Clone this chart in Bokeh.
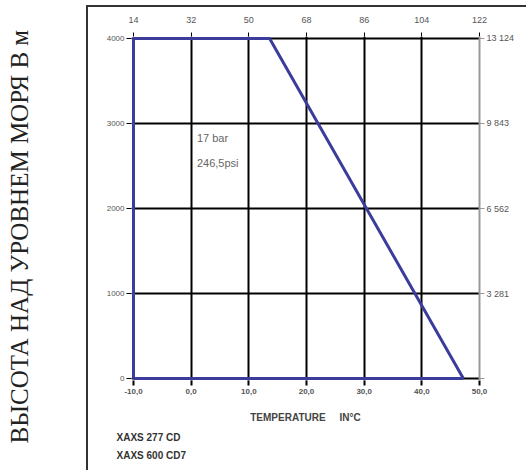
from bokeh.plotting import figure
from bokeh.models import (LinearAxis, FixedTicker, Range1d, Label, Title)
from bokeh.embed import file_html
from bokeh.resources import INLINE

# ---- data ----
temp_c = [-10, -10, 13.6, 47.2, -10]
alt_m = [0, 4000, 4000, 0, 0]

x_ticks = [-10, 0, 10, 20, 30, 40, 50]
x_labels_c = ["-10,0", "0,0", "10,0", "20,0", "30,0", "40,0", "50,0"]
x_labels_f = ["14", "32", "50", "68", "86", "104", "122"]

y_ticks = [0, 1000, 2000, 3000, 4000]
y_labels_m = ["0", "1000", "2000", "3000", "4000"]
y_labels_ft = ["", "3 281", "6 562", "9 843", "13 124"]

y_title = "ВЫСОТА НАД УРОВНЕМ МОРЯ В м"
x_title = "TEMPERATURE\u00a0\u00a0\u00a0\u00a0 IN°C"
note_lines = ["17 bar", "246,5psi"]
note_x = [1, 1]
note_y = [2835, 2530]
models = ["XAXS 277 CD", "XAXS 600 CD7"]

W, H = 526, 470
p = figure(width=W, height=H, output_backend="svg", toolbar_location=None,
           x_range=Range1d(-10.35, 50), y_range=Range1d(-23.5, 4023.5),
           x_axis_location=None, y_axis_location=None,
           min_border_left=131, min_border_right=47,
           min_border_top=36, min_border_bottom=90)
p.outline_line_color = None
p.background_fill_color = "white"
p.border_fill_color = None
# outer frame of the original drawing (decorative)
p.styles = {
    "background-color": "white",
    "background-image": "linear-gradient(#333333, #333333), linear-gradient(#333333, #333333)",
    "background-size": "2px 100%, 100% 2px",
    "background-position": "86px 5px, 86px 5px",
    "background-repeat": "no-repeat",
}

# grids
p.xgrid.ticker = FixedTicker(ticks=[t for t in x_ticks if -10 < t < 50])
p.ygrid.ticker = FixedTicker(ticks=y_ticks)
for g in (p.xgrid, p.ygrid):
    g.grid_line_color = "black"
    g.grid_line_width = 2
    g.grid_line_alpha = 1

def style(ax, size="8px", bold=False, color="#555555"):
    ax.major_label_text_font = "Liberation Sans"
    ax.major_label_text_font_size = size
    ax.major_label_text_color = color
    if bold:
        ax.major_label_text_font_style = "bold"
    ax.minor_tick_line_color = None

# bottom axis (Celsius)
bx = LinearAxis(ticker=FixedTicker(ticks=x_ticks),
                major_label_overrides=dict(zip(x_ticks, x_labels_c)))
style(bx, "8px", True, "#555555")
bx.axis_line_color = None
bx.major_tick_line_color = "black"
bx.major_tick_line_width = 2
bx.major_tick_out = 5
bx.major_tick_in = 0
bx.major_label_standoff = 3
bx.axis_label = x_title
bx.axis_label_text_font = "Liberation Sans"
bx.axis_label_text_font_size = "10px"
bx.axis_label_text_font_style = "bold"
bx.axis_label_text_color = "#444444"
bx.axis_label_standoff = 15
p.add_layout(bx, "below")

# model names below
for i, m in enumerate(models):
    p.add_layout(Title(text=m, align="left", offset=-15, standoff=(8 if i == 0 else 3),
                       text_font="Liberation Sans", text_font_size="10px",
                       text_font_style="bold", text_color="#333333"), "below")

# top axis (Fahrenheit)
tx = LinearAxis(ticker=FixedTicker(ticks=x_ticks),
                major_label_overrides=dict(zip(x_ticks, x_labels_f)))
style(tx, "9px", False, "#555555")
tx.axis_line_color = None
tx.major_tick_line_color = "black"
tx.major_tick_line_width = 1
tx.major_tick_out = 4
tx.major_tick_in = 0
tx.major_label_standoff = 10
p.add_layout(tx, "above")

# left axis (metres); its blank label only reserves room before the title
lx = LinearAxis(ticker=FixedTicker(ticks=y_ticks),
                major_label_overrides=dict(zip(y_ticks, y_labels_m)))
style(lx, "8px", False, "#555555")
lx.axis_line_color = None
lx.major_tick_line_color = "black"
lx.major_tick_line_width = 1
lx.major_tick_out = 5
lx.major_tick_in = 0
lx.major_label_standoff = 2
lx.axis_label = "\u00a0"
lx.axis_label_text_font_size = "1px"
lx.axis_label_standoff = 66
p.add_layout(lx, "left")

# vertical title on the left
p.add_layout(Title(text=y_title, align="left", offset=-63, standoff=2,
                   text_font="Liberation Serif", text_font_size="25px",
                   text_font_style="normal", text_color="#222222"), "left")

# right axis (feet)
rx = LinearAxis(ticker=FixedTicker(ticks=y_ticks),
                major_label_overrides=dict(zip(y_ticks, y_labels_ft)))
style(rx, "9px", False, "#555555")
rx.axis_line_color = "#999999"
rx.axis_line_width = 2
rx.major_tick_line_color = "#999999"
rx.major_tick_line_width = 1
rx.major_tick_out = 5
rx.major_tick_in = 0
rx.major_label_standoff = 2
p.add_layout(rx, "right")

# envelope
p.line(temp_c, alt_m, line_color="#3c3c9c", line_width=3)

# annotations inside chart
for tx_, x_, y_ in zip(note_lines, note_x, note_y):
    p.add_layout(Label(x=x_, y=y_, text=tx_, text_font="Liberation Sans",
                       text_font_size="11px", text_color="#666666",
                       text_baseline="middle"))

open("out.html", "w").write(file_html(p, INLINE))
